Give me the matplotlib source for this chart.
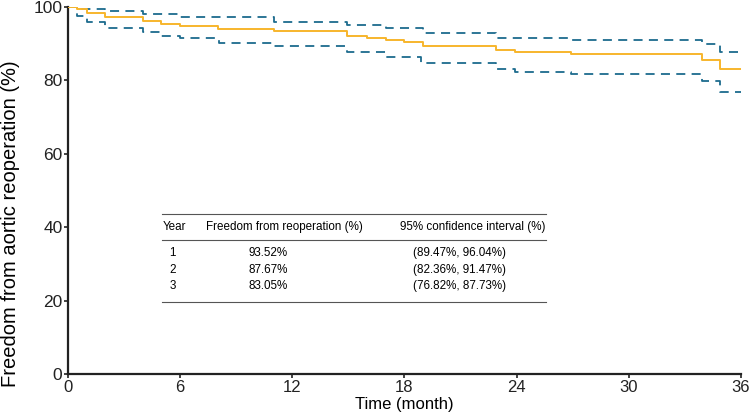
import matplotlib
matplotlib.use("Agg")
import matplotlib.pyplot as plt

# Kaplan-Meier estimate (step points)
km_t = [0, 0.5, 1.0, 2.0, 4.0, 5.0, 6.0, 8.0, 11.0, 14.9, 16.0, 17.0, 18.0, 19.0,
        22.9, 23.9, 26.9, 33.9, 34.9, 36.0]
km_s = [100, 99.4, 98.4, 97.2, 96.3, 95.4, 94.9, 94.0, 93.52, 92.2, 91.5, 91.0, 90.4,
        89.5, 88.3, 87.67, 87.2, 85.7, 83.05, 83.05]

up_t = [0, 0.6, 2.0, 4.0, 6.0, 11.0, 14.9, 17.0, 19.0, 22.9, 26.9, 33.9, 34.9, 36.0]
up_s = [100, 99.6, 98.8, 98.1, 97.4, 96.04, 95.0, 94.2, 92.8, 91.47, 91.0, 89.9,
        87.73, 87.73]

lo_t = [0, 0.5, 1.0, 2.0, 4.0, 5.0, 6.0, 8.1, 11.0, 14.9, 17.0, 18.9, 22.9, 23.9,
        26.9, 33.9, 34.9, 36.0]
lo_s = [100, 97.6, 96.0, 94.2, 93.1, 92.2, 91.5, 90.1, 89.47, 87.8, 86.3, 84.7, 83.1,
        82.36, 81.7, 79.9, 76.82, 76.82]

# inset table
tbl_header = ["Year", "Freedom from reoperation (%)", "95% confidence interval (%)"]
tbl_year = ["1", "2", "3"]
tbl_free = ["93.52%", "87.67%", "83.05%"]
tbl_ci = ["(89.47%, 96.04%)", "(82.36%, 91.47%)", "(76.82%, 87.73%)"]

plt.rcParams["font.family"] = ["Liberation Sans", "DejaVu Sans"]

ORANGE = "#F7B52C"
BLUE = "#1C6B8E"

fig = plt.figure(figsize=(7.49, 4.16), dpi=100)
ax = fig.add_axes([0.0908, 0.101, 0.8985, 0.882])

ax.step(km_t, km_s, where="post", color=ORANGE, lw=1.4, zorder=3)
ax.step(up_t, up_s, where="post", color=BLUE, lw=1.3, dashes=(5, 3.5), zorder=2)
ax.step(lo_t, lo_s, where="post", color=BLUE, lw=1.3, dashes=(5, 3.5), zorder=2)

ax.set_xlim(0, 36)
ax.set_ylim(0, 100)
ax.set_xticks(range(0, 37, 6))
ax.set_yticks(range(0, 101, 20))
for s in ("top", "right"):
    ax.spines[s].set_visible(False)
for s in ("left", "bottom"):
    ax.spines[s].set_linewidth(1.6)
    ax.spines[s].set_color("#222222")
ax.tick_params(length=3, width=1.2, pad=1, colors="#222222")
ax.tick_params(axis="x", labelsize=12)
ax.tick_params(axis="y", labelsize=12.5)
ax.set_xlabel("Time (month)", fontsize=12, labelpad=2)
ax.set_ylabel("Freedom from aortic reoperation (%)", fontsize=14.5, va="center")
ax.yaxis.set_label_coords(-0.085, 0.41)

# table drawn in data coordinates
x0, x1 = 5.03, 25.56
line_kw = dict(color="#555555", lw=0.8)
ax.plot([x0, x1], [43.6, 43.6], **line_kw)
ax.plot([x0, x1], [36.5, 36.5], **line_kw)
ax.plot([x0, x1], [19.6, 19.6], **line_kw)
fs = 8.4
ax.text(x0 + 0.02, 40.0, tbl_header[0], fontsize=fs, va="center", ha="left")
ax.text(7.4, 40.0, tbl_header[1], fontsize=fs, va="center", ha="left")
ax.text(x1 - 0.05, 40.0, tbl_header[2], fontsize=fs, va="center", ha="right")
for i, yv in enumerate([33.0, 28.4, 24.0]):
    ax.text(5.6, yv, tbl_year[i], fontsize=fs, va="center", ha="center")
    ax.text(10.72, yv, tbl_free[i], fontsize=fs, va="center", ha="center")
    ax.text(20.95, yv, tbl_ci[i], fontsize=fs, va="center", ha="center")

fig.savefig("out.png", dpi=100)
